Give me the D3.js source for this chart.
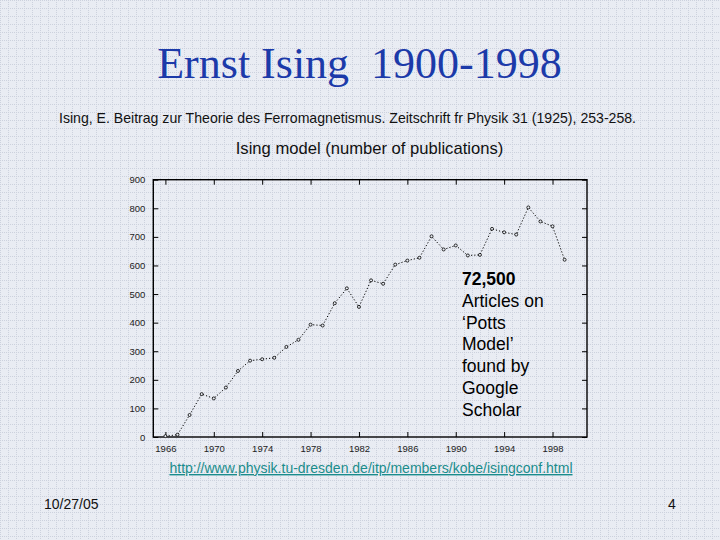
<!DOCTYPE html>
<html>
<head>
<meta charset="utf-8">
<script src="https://cdn.jsdelivr.net/npm/d3@7"></script>
<style>
  html, body { margin: 0; padding: 0; }
  svg { display: block; }
</style>
</head>
<body>
<div id="chart"></div>
<script>
// ---- data ----
const years = [1966,1967,1968,1969,1970,1971,1972,1973,1974,1975,1976,1977,1978,1979,1980,1981,1982,1983,1984,1985,1986,1987,1988,1989,1990,1991,1992,1993,1994,1995,1996,1997,1998,1999];
const publications = [3,8,77,150,135,173,231,267,272,277,315,340,393,390,468,520,455,548,536,603,617,627,702,656,670,635,637,728,716,708,803,754,737,620];
const xTickYears = [1966,1970,1974,1978,1982,1986,1990,1994,1998];
const yTickValues = [0,100,200,300,400,500,600,700,800,900];
const annotationLines = ["72,500", "Articles on", "\u2018Potts", "Model\u2019", "found by", "Google", "Scholar"];

const W = 720, H = 540;
const svg = d3.select("#chart").append("svg").attr("width", W).attr("height", H);

// background with dotted grid texture
const defs = svg.append("defs");
const pat = defs.append("pattern").attr("id", "bg").attr("width", 8).attr("height", 8).attr("patternUnits", "userSpaceOnUse");
pat.append("rect").attr("width", 8).attr("height", 8).attr("fill", "#e9ecf3");
pat.append("line").attr("x1", 0).attr("y1", 0.5).attr("x2", 8).attr("y2", 0.5)
  .attr("stroke", "#ccd1dd").attr("stroke-width", 1).attr("stroke-dasharray", "1,1");
pat.append("line").attr("x1", 0.5).attr("y1", 0).attr("x2", 0.5).attr("y2", 8)
  .attr("stroke", "#ccd1dd").attr("stroke-width", 1).attr("stroke-dasharray", "1,1");
svg.append("rect").attr("width", W).attr("height", H).attr("fill", "url(#bg)");

// titles
svg.append("text").attr("x", 359.5).attr("y", 78).attr("text-anchor", "middle")
  .attr("font-family", "Liberation Serif, Times New Roman, serif").attr("font-size", 44)
  .attr("fill", "#1c3aa9").style("white-space", "pre").text("Ernst Ising  1900-1998");

svg.append("text").attr("x", 347.5).attr("y", 123).attr("text-anchor", "middle")
  .attr("font-family", "Liberation Sans, Arial, sans-serif").attr("font-size", 14.1)
  .attr("fill", "#111").text("Ising, E. Beitrag zur Theorie des Ferromagnetismus. Zeitschrift fr Physik 31 (1925), 253-258.");

svg.append("text").attr("x", 369.5).attr("y", 154).attr("text-anchor", "middle")
  .attr("font-family", "Liberation Sans, Arial, sans-serif").attr("font-size", 16.6)
  .attr("fill", "#111").text("Ising model (number of publications)");

// plot area
const L = 153.3, R = 587, T = 179.7, B = 437;
const x = d3.scaleLinear().domain([1965, 2000.85]).range([L, R]);
const y = d3.scaleLinear().domain([0, 900]).range([B, T]);

const axFont = "Liberation Sans, Arial, sans-serif";

const gx = svg.append("g").attr("transform", `translate(0,${B})`)
  .call(d3.axisBottom(x).tickValues(xTickYears).tickFormat(d3.format("d")).tickSizeInner(-5).tickSizeOuter(0).tickPadding(8));
const gxTop = svg.append("g").attr("transform", `translate(0,${T})`)
  .call(d3.axisTop(x).tickValues(xTickYears).tickFormat("").tickSizeInner(-5).tickSizeOuter(0));
const gy = svg.append("g").attr("transform", `translate(${L},0)`)
  .call(d3.axisLeft(y).tickValues(yTickValues).tickFormat(d3.format("d")).tickSizeInner(5).tickSizeOuter(0).tickPadding(3));
const gyR = svg.append("g").attr("transform", `translate(${R},0)`)
  .call(d3.axisRight(y).tickValues(yTickValues).tickFormat("").tickSizeInner(-5).tickSizeOuter(0));

[gx, gxTop, gy, gyR].forEach(g => {
  g.select(".domain").remove();
  g.selectAll("line").attr("stroke", "#000").attr("stroke-width", 1);
  g.selectAll("text").attr("font-family", axFont).attr("font-size", 9.5).attr("fill", "#222");
});
gy.selectAll(".tick line").attr("x2", 5);

// frame
svg.append("rect").attr("x", L).attr("y", T).attr("width", R - L).attr("height", B - T)
  .attr("fill", "none").attr("stroke", "#000").attr("stroke-width", 1.4);

// data line
const pts = years.map((yr, i) => ({yr, v: publications[i]}));
const line = d3.line().x(d => x(d.yr)).y(d => y(d.v));
svg.append("path").datum(pts).attr("d", line).attr("fill", "none")
  .attr("stroke", "#000").attr("stroke-width", 1).attr("stroke-dasharray", "1.2,2");
svg.append("g").selectAll("circle").data(pts).join("circle")
  .attr("cx", d => x(d.yr)).attr("cy", d => y(d.v)).attr("r", 1.5)
  .attr("fill", "#e9ecf3").attr("stroke", "#000").attr("stroke-width", 0.8);

// annotation
const ann = svg.append("text").attr("font-family", "Liberation Sans, Arial, sans-serif")
  .attr("font-size", 17.5).attr("fill", "#000");
annotationLines.forEach((t, i) => {
  ann.append("tspan").attr("x", 462).attr("y", 285 + i * 21.8)
    .attr("font-weight", i === 0 ? "bold" : "normal").text(t);
});

// URL
svg.append("text").attr("x", 371).attr("y", 473).attr("text-anchor", "middle")
  .attr("font-family", "Liberation Sans, Arial, sans-serif").attr("font-size", 14)
  .attr("fill", "#1a8c8c").attr("text-decoration", "underline")
  .text("http://www.physik.tu-dresden.de/itp/members/kobe/isingconf.html");

// footer
svg.append("text").attr("x", 44).attr("y", 509)
  .attr("font-family", "Liberation Sans, Arial, sans-serif").attr("font-size", 14)
  .attr("fill", "#111").text("10/27/05");
svg.append("text").attr("x", 672).attr("y", 509).attr("text-anchor", "middle")
  .attr("font-family", "Liberation Sans, Arial, sans-serif").attr("font-size", 14)
  .attr("fill", "#111").text("4");
</script>
</body>
</html>
